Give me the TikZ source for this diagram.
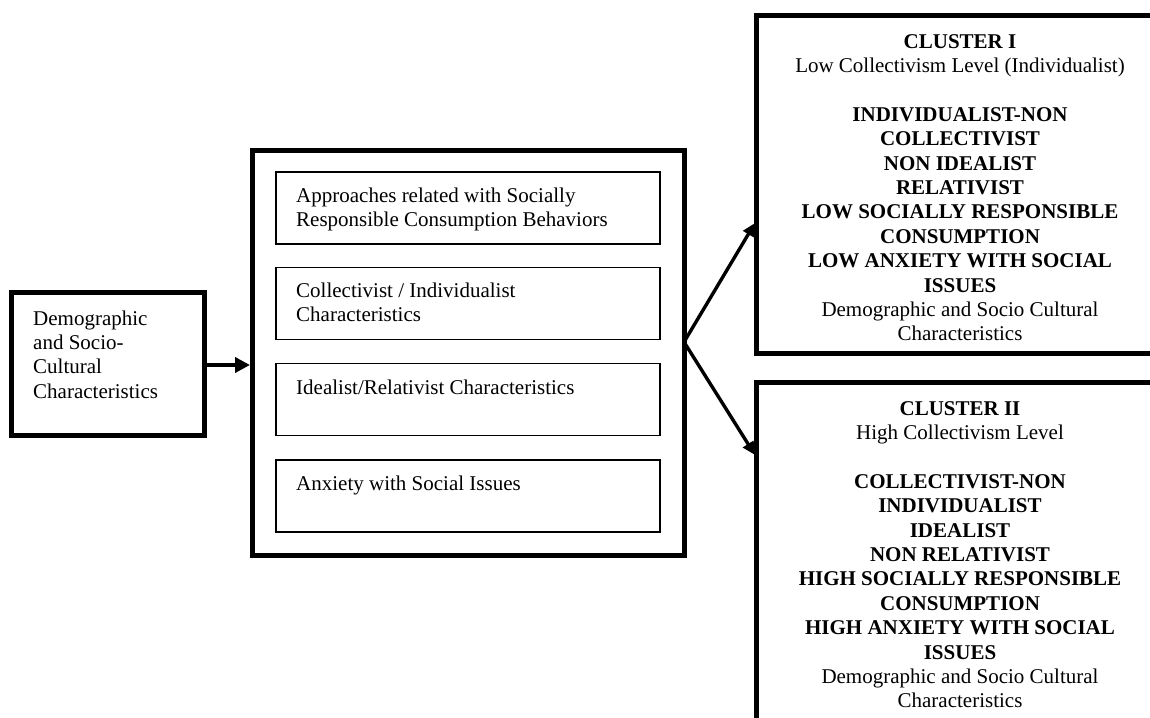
\documentclass[tikz,border=0pt]{standalone}
\usepackage{fontspec}
\setmainfont{Liberation Serif}
\usetikzlibrary{arrows.meta}
\tikzset{
  thickbox/.style={draw, line width=5pt, minimum width=#1, inner sep=0pt},
  thinbox/.style={draw, line width=1.6pt, minimum width=384pt, minimum height=72pt, inner sep=0pt},
  txt/.style={inner sep=0pt, font=\fontsize{21}{24.4}\selectfont},
  ltxt/.style={txt, anchor=north west, align=left},
  ctxt/.style={txt, anchor=north, align=center},
  bigarrow/.style={line width=3.8pt, -{Triangle[length=15pt,width=15pt]}},
  diagarrow/.style={line width=3.4pt, -{Triangle[length=13pt,width=12pt]}}
}
\begin{document}
\begin{tikzpicture}[x=1pt,y=-1pt]
\useasboundingbox (0,0) rectangle (1150,717);
\begin{scope}
\clip (0,0) rectangle (1150,717);
% left box
\node[thickbox=193pt, minimum height=143pt] (demo) at (108,364) {};
\node[ltxt] (demotxt) at (33,307.9) {\strut Demographic\\and Socio-\\Cultural\\Characteristics};
% central box
\node[thickbox=432pt, minimum height=405pt] (mid) at (468.5,353) {};
\node[thinbox] (b1) at (468,208) {};
\node[thinbox] (b2) at (468,303.5) {};
\node[thinbox] (b3) at (468,399.5) {};
\node[thinbox] (b4) at (468,496) {};
\node[ltxt] (t1) at (296,184.9) {\strut Approaches related with Socially\\Responsible Consumption Behaviors};
\node[ltxt] (t2) at (296,279.9) {\strut Collectivist / Individualist\\Characteristics};
\node[ltxt] (t3) at (296,376.9) {\strut Idealist/Relativist Characteristics};
\node[ltxt] (t4) at (296,472.9) {\strut Anxiety with Social Issues};
% clusters
\node[thickbox=414pt, minimum height=337pt] (c1) at (963,184.5) {};
\node[thickbox=414pt, minimum height=360pt] (c2) at (963.5,562.5) {};
\node[ctxt] (c1t) at (960,30.9) {\strut\textbf{CLUSTER I}\\Low Collectivism Level (Individualist)\\[24.4pt]
\textbf{INDIVIDUALIST-NON}\\\textbf{COLLECTIVIST}\\\textbf{NON IDEALIST}\\\textbf{RELATIVIST}\\\textbf{LOW SOCIALLY RESPONSIBLE}\\\textbf{CONSUMPTION}\\\textbf{LOW ANXIETY WITH SOCIAL}\\\textbf{ISSUES}\\Demographic and Socio Cultural\\Characteristics};
\node[ctxt] (c2t) at (960,397.9) {\strut\textbf{CLUSTER II}\\High Collectivism Level\\[24.4pt]
\textbf{COLLECTIVIST-NON}\\\textbf{INDIVIDUALIST}\\\textbf{IDEALIST}\\\textbf{NON RELATIVIST}\\\textbf{HIGH SOCIALLY RESPONSIBLE}\\\textbf{CONSUMPTION}\\\textbf{HIGH ANXIETY WITH SOCIAL}\\\textbf{ISSUES}\\Demographic and Socio Cultural\\Characteristics};
% connectors
\coordinate (split) at (684,342);
\coordinate (tip1) at (755,223);
\coordinate (tip2) at (755,455);
\draw[bigarrow] (demo.east |- 0,365) -- (mid.west |- 0,365);
\draw[diagarrow] (split) -- (tip1);
\draw[diagarrow] (split) -- (tip2);
\end{scope}
\end{tikzpicture}
\end{document}
